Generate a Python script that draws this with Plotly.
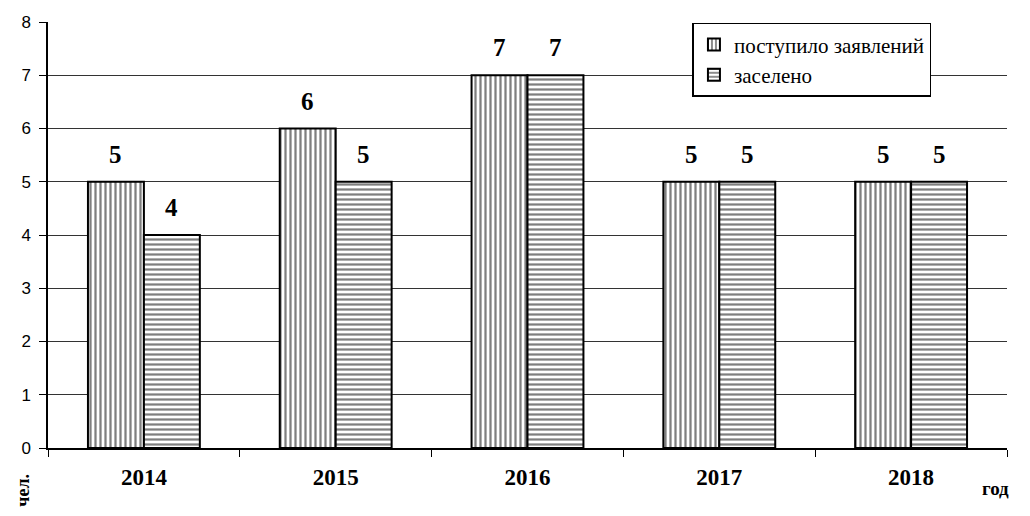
import plotly.graph_objects as go

years = ["2014", "2015", "2016", "2017", "2018"]
received = [5, 6, 7, 5, 5]
settled = [4, 5, 7, 5, 5]
series_names = ["поступило заявлений", "заселено"]
y_ticks = [0, 1, 2, 3, 4, 5, 6, 7, 8]

fig = go.Figure()
fig.add_trace(go.Bar(
    x=years, y=received, name=series_names[0],
    marker=dict(color="white", line=dict(color="black", width=2),
                pattern=dict(shape="|", fgcolor="black", bgcolor="white", size=5, solidity=0.45)),
))
fig.add_trace(go.Bar(
    x=years, y=settled, name=series_names[1],
    marker=dict(color="white", line=dict(color="black", width=2),
                pattern=dict(shape="-", fgcolor="black", bgcolor="white", size=5, solidity=0.45)),
))

annotations = []
for i, (a, b) in enumerate(zip(received, settled)):
    for val, shift in ((a, -28), (b, 28)):
        annotations.append(dict(
            x=i, y=val, xref="x", yref="y", text="<b>%d</b>" % val, showarrow=False,
            xshift=shift, yshift=12, yanchor="bottom",
            font=dict(family="Liberation Serif", size=25, color="black"),
        ))
annotations.append(dict(
    x=0.988, y=-0.095, xref="paper", yref="paper", text="<b>год</b>", showarrow=False,
    xanchor="center", yanchor="middle",
    font=dict(family="Liberation Serif", size=19, color="black"),
))
annotations.append(dict(
    x=-0.027, y=-0.1, xref="paper", yref="paper", text="<b>чел.</b>", showarrow=False,
    textangle=-90, xanchor="center", yanchor="middle",
    font=dict(family="Liberation Serif", size=18, color="black"),
))

fig.update_layout(
    width=1030, height=516,
    margin=dict(l=40, r=31, t=14, b=76),
    paper_bgcolor="white", plot_bgcolor="white",
    barmode="group", bargap=0.4167, bargroupgap=0,
    showlegend=True,
    legend=dict(
        x=0.672, y=0.998, xanchor="left", yanchor="top",
        bordercolor="black", borderwidth=1.5, bgcolor="white",
        font=dict(family="Liberation Serif, DejaVu Serif, serif", size=21, color="black"),
        tracegroupgap=0, itemwidth=30,
    ),
    annotations=annotations,
)
fig.update_xaxes(
    type="category", range=[-0.5, 4.5], tickson="boundaries", ticks="outside", ticklen=7,
    tickcolor="black", showline=True, linecolor="black", linewidth=1.5,
    showgrid=False, automargin=False,
    tickfont=dict(family="Liberation Serif", size=23, color="black", weight="bold"),
    ticklabelstandoff=8,
)
fig.update_yaxes(
    range=[0, 8], tickvals=y_ticks, ticks="outside", ticklen=7, tickcolor="black",
    showline=True, linecolor="black", linewidth=1.5, automargin=False,
    showgrid=True, gridcolor="#333333", gridwidth=1, zeroline=False,
    tickfont=dict(family="Liberation Sans", size=17, color="black"),
    ticklabelstandoff=5,
)

fig.write_html("out.html")
